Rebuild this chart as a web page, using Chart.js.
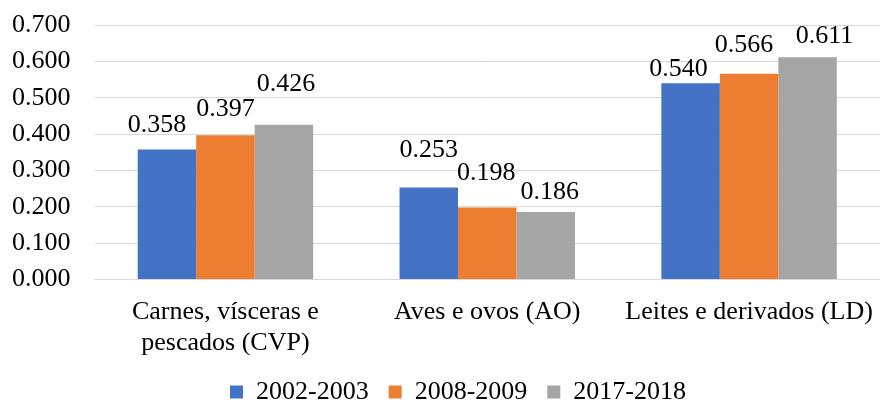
<!DOCTYPE html>
<html>
<head>
<meta charset="utf-8">
<script src="https://cdn.jsdelivr.net/npm/chart.js@4/dist/chart.umd.min.js"></script>
<style>
html,body{margin:0;padding:0;background:#fff;}
#wrap{width:880px;height:403px;}
</style>
</head>
<body>
<div id="wrap"><canvas id="c" width="880" height="403"></canvas></div>
<script>
const categories = [["Carnes, vísceras e","pescados (CVP)"], "Aves e ovos (AO)", "Leites e derivados (LD)"];
const seriesNames = ["2002-2003", "2008-2009", "2017-2018"];
const s2002 = [0.358, 0.253, 0.540];
const s2008 = [0.397, 0.198, 0.566];
const s2017 = [0.426, 0.186, 0.611];
const colors = ["#4472C4", "#ED7D31", "#A5A5A5"];
const yTicks = [0, 0.1, 0.2, 0.3, 0.4, 0.5, 0.6, 0.7];

// manual data-label placement (pixel offsets from bar top: [dx, gap])
const labelShift = [
  [[-10, 17], [0, 31], [-12, 7]],
  [[0, 19], [-1, 28], [-5, 22]],
  [[2, 34], [4, 13], [17, 14]]
];

const FONT = "'Liberation Serif', 'Times New Roman', serif";
const FS = 26;

const labelPlugin = {
  id: 'barLabels',
  afterLayout(chart) {
    if (chart.legend) { chart.legend.left += 12; chart.legend.right += 12; }
  },
  afterDatasetsDraw(chart) {
    const ctx = chart.ctx;
    ctx.save();
    ctx.font = FS + "px " + FONT;
    ctx.fillStyle = "#000";
    ctx.textAlign = "center";
    ctx.textBaseline = "alphabetic";
    chart.data.datasets.forEach((ds, i) => {
      chart.getDatasetMeta(i).data.forEach((bar, j) => {
        const p = bar.getProps(['x', 'y'], true);
        const s = labelShift[i][j];
        ctx.fillText(ds.data[j].toFixed(3), p.x + s[0], p.y - s[1]);
      });
    });
    ctx.restore();
  }
};

new Chart(document.getElementById('c'), {
  type: 'bar',
  data: {
    labels: categories,
    datasets: [s2002, s2008, s2017].map((d, i) => ({
      label: seriesNames[i],
      data: d,
      backgroundColor: colors[i],
      borderWidth: 0,
      categoryPercentage: 0.67,
      barPercentage: 1.0
    }))
  },
  options: {
    responsive: false,
    animation: false,
    devicePixelRatio: 1,
    layout: { padding: { top: 25, right: 0, left: 12, bottom: 0 } },
    plugins: {
      legend: {
        position: 'bottom',
        maxHeight: 44,
        labels: {
          font: { family: FONT, size: FS },
          color: "#000",
          boxWidth: 13,
          boxHeight: 13,
          padding: 20
        }
      },
      tooltip: { enabled: false }
    },
    scales: {
      x: {
        grid: { display: false, drawTicks: false },
        border: { display: true, color: "#d9d9d9", width: 1 },
        afterFit(s) { s.paddingLeft = 0; s.paddingRight = 0; s.height -= 17; },
        ticks: {
          font: { family: FONT, size: FS, lineHeight: 1.2 },
          color: "#000",
          padding: 17,
          maxRotation: 0,
          autoSkip: false
        }
      },
      y: {
        min: 0,
        max: 0.7,
        afterBuildTicks(axis) { axis.ticks = yTicks.map(v => ({ value: v })); },
        afterFit(s) { s.paddingTop = 0; s.paddingBottom = 0; s.width -= 24; },
        grid: { color: "#d9d9d9", lineWidth: 1, drawTicks: false },
        border: { display: false },
        ticks: {
          font: { family: FONT, size: FS },
          color: "#000",
          padding: 24,
          autoSkip: false,
          callback: v => Number(v).toFixed(3)
        }
      }
    }
  },
  plugins: [labelPlugin]
});
</script>
</body>
</html>
